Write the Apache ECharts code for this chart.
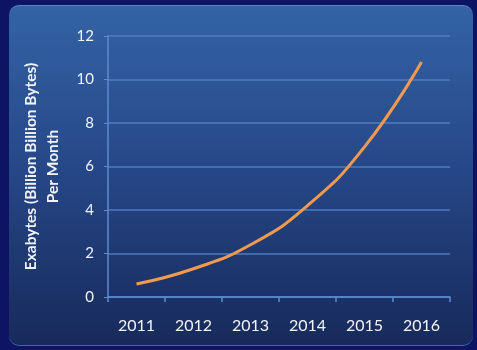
<!DOCTYPE html>
<html lang="en">
<head>
  <meta charset="utf-8">
  <title>Exabytes per month</title>
  <script src="https://cdn.jsdelivr.net/npm/echarts@6/dist/echarts.min.js"></script>
  <style>
    html, body { margin: 0; padding: 0; background: #0d1562; }
    #wrap { position: relative; width: 477px; height: 350px; overflow: hidden; }
    #panel {
      position: absolute; left: 9px; top: 5px; width: 464px; height: 339px;
      border-radius: 10px;
      background: linear-gradient(to bottom, #3363a4 0%, #27498a 45%, #172a5b 100%);
      border-top: 1px solid #5a86c8;
      border-bottom: 1px solid #3a68b0;
    }
    #container { position: absolute; left: 0; top: 0; width: 477px; height: 350px; }
  </style>
</head>
<body>
<div id="wrap">
  <div id="panel"></div>
  <div id="container"></div>
</div>
<script>
  var years = ['2011', '2012', '2013', '2014', '2015', '2016'];
  var exabytes = [0.6, 1.3, 2.4, 4.2, 6.9, 10.8];

  var myChart = echarts.init(document.getElementById('container'));
  var font = 'Lato, "Open Sans", sans-serif';

  var option = {
    backgroundColor: 'transparent',
    animation: false,
    grid: { left: 108, right: 27, top: 36, bottom: 53 },
    xAxis: {
      type: 'category',
      data: years,
      boundaryGap: true,
      axisLine: { lineStyle: { color: '#5f8ad0', width: 1.5 } },
      axisTick: { show: true, length: 5, lineStyle: { color: '#5f8ad0', width: 1.5 } },
      axisLabel: { color: '#f2f4fa', fontSize: 16, fontFamily: font, margin: 21 }
    },
    yAxis: {
      type: 'value',
      min: 0, max: 12, interval: 2,
      name: 'Exabytes (Billion Billion Bytes)\nPer Month',
      nameLocation: 'middle',
      nameGap: 44,
      nameTextStyle: {
        color: '#f2f4fa', fontSize: 15.5, fontWeight: 'bold',
        fontFamily: font, lineHeight: 22, align: 'center'
      },
      axisLine: { show: true, lineStyle: { color: '#5f8ad0', width: 1.5 } },
      axisTick: { show: true, length: 4, lineStyle: { color: '#5f8ad0' } },
      axisLabel: { color: '#f2f4fa', fontSize: 15, fontFamily: font, margin: 14 },
      splitLine: { lineStyle: { color: '#4f7bc0', width: 1.5 } }
    },
    series: [{
      type: 'line',
      data: exabytes,
      smooth: true,
      symbol: 'none',
      lineStyle: { color: '#f39a4f', width: 3 }
    }]
  };
  myChart.setOption(option);
</script>
</body>
</html>
